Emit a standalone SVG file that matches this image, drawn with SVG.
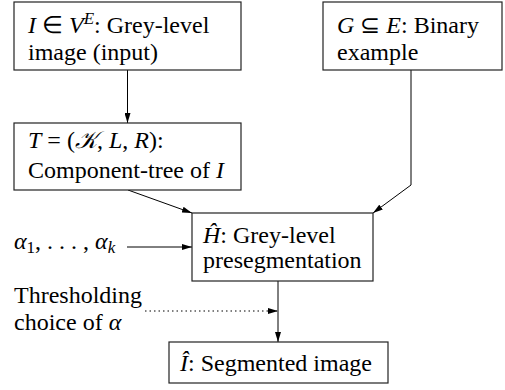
<svg xmlns="http://www.w3.org/2000/svg" width="505" height="390" viewBox="0 0 505 390">
<style>
text{font-family:'Liberation Serif','Times New Roman',Tinos,Times,serif;font-size:24px;fill:#000}
.m{font-style:italic}
.box{fill:#fff;stroke:#222;stroke-width:1.2}
.c{fill:none;stroke:#000;stroke-width:1}
.d{stroke-dasharray:1.5 3}
</style>
<defs>
<marker id="ah" viewBox="0 0 10 6" refX="10" refY="3" markerWidth="10" markerHeight="6" markerUnits="userSpaceOnUse" orient="auto">
<path d="M0,0 L10,3 L0,6 Z" fill="#000"/>
</marker>
</defs>
<g id="connectors">
<path class="c" d="M127.5,70 V123" marker-end="url(#ah)"/>
<path class="c" d="M128,190 L192,213" marker-end="url(#ah)"/>
<path class="c" d="M411,70 V185 L373,213" marker-end="url(#ah)"/>
<path class="c" d="M127,247 H192" marker-end="url(#ah)"/>
<path class="c" d="M278,281 V342" marker-end="url(#ah)"/>
<path class="c d" d="M145,311 H278" marker-end="url(#ah)"/>
</g>
<g id="input">
<rect class="box" x="14" y="2" width="227" height="68"/>
<text x="28" y="33" font-family="Liberation Serif"><tspan class="m">I</tspan> ∈ <tspan class="m">V</tspan><tspan class="m" font-size="17" y="24">E</tspan><tspan y="33">: Grey-level</tspan></text>
<text x="28" y="60" font-family="Liberation Serif">image (input)</text>
</g>
<g id="example">
<rect class="box" x="323" y="2" width="179" height="68"/>
<text x="337" y="33" font-family="Liberation Serif"><tspan class="m">G</tspan> ⊆ <tspan class="m">E</tspan>: Binary</text>
<text x="337" y="60" font-family="Liberation Serif">example</text>
</g>
<g id="tree">
<rect class="box" x="14" y="123" width="227" height="67"/>
<text x="28" y="148" font-family="Liberation Serif"><tspan class="m">T</tspan> = (<tspan class="m">𝒦</tspan>, <tspan class="m">L</tspan>, <tspan class="m">R</tspan>):</text>
<text x="28" y="178" font-family="Liberation Serif">Component-tree of <tspan class="m">I</tspan></text>
</g>
<g id="alphas">
<text x="14" y="249" font-family="Liberation Serif"><tspan class="m">α</tspan><tspan font-size="17" y="253">1</tspan><tspan y="249">, . . . , </tspan><tspan class="m">α</tspan><tspan class="m" font-size="17" y="253">k</tspan></text>
</g>
<g id="presegmentation">
<rect class="box" x="192" y="213" width="181" height="68"/>
<text x="203" y="243" font-family="Liberation Serif"><tspan class="m">Ĥ</tspan>: Grey-level</text>
<text x="203" y="268" font-family="Liberation Serif">presegmentation</text>
</g>
<g id="thresholding">
<text x="14" y="303" font-family="Liberation Serif">Thresholding</text>
<text x="14" y="330" font-family="Liberation Serif">choice of <tspan class="m">α</tspan></text>
</g>
<g id="segmented">
<rect class="box" x="169" y="342" width="219" height="41"/>
<text x="180" y="371" font-family="Liberation Serif"><tspan class="m">Î</tspan>: Segmented image</text>
</g>
</svg>
